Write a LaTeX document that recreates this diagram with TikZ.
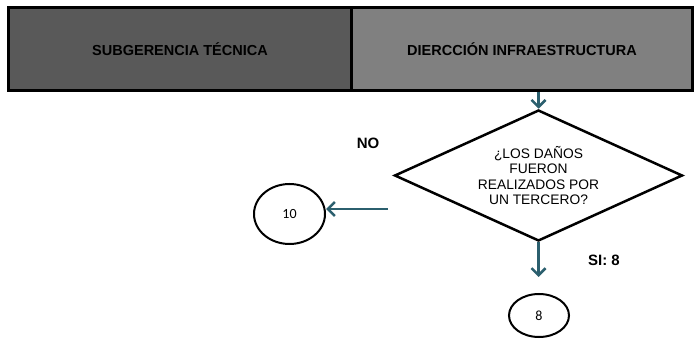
\documentclass[tikz,border=0pt]{standalone}
\usepackage{fontspec}
\setmainfont{Liberation Sans}
\newfontfamily\numfont{Carlito}
\usetikzlibrary{shapes.geometric,arrows.meta}
\definecolor{flowteal}{RGB}{43,95,110}
\definecolor{subgray}{RGB}{89,89,89}
\definecolor{dirgray}{RGB}{128,128,128}

\begin{document}
\begin{tikzpicture}[x=1pt,y=-1pt,
  cell/.style={draw,line width=3pt,minimum height=83pt,inner sep=0pt,
    font=\fontsize{14.5}{17}\selectfont\bfseries},
  flow/.style={draw=flowteal,line width=2.5pt,-{Straight Barb[length=7pt,width=14pt]}},
  answer/.style={font=\fontsize{15}{17}\selectfont\bfseries},
  term/.style={draw,ellipse,line width=2pt,inner sep=0pt,
    font=\numfont\fontsize{14}{16}\selectfont}]
\useasboundingbox (0,0) rectangle (694,339);
% encabezado
\node[cell,fill=subgray,minimum width=343pt] (sub) at (180,49) {SUBGERENCIA TÉCNICA};
\node[cell,fill=dirgray,minimum width=341pt] (dir) at (522,49) {DIERCCIÓN INFRAESTRUCTURA};
% decision
\node[draw,diamond,aspect=2.2,line width=2.5pt,minimum width=288pt,minimum height=131pt,inner sep=0pt,
  align=center,font=\fontsize{13.8}{15.5}\selectfont] (q) at (538.5,175.5)
  {¿LOS DAÑOS\\FUERON\\REALIZADOS POR\\UN TERCERO?};
\node[term,minimum width=71pt,minimum height=60pt] (c10) at (289.5,214) {10};
\node[term,minimum width=60pt,minimum height=43pt] (c8) at (539,315.5) {8};
\node[answer] (no) at (368,143) {NO};
\node[answer] (si) at (604,260) {SI: 8};
% flechas
\coordinate (qin) at (538.5,92);
\coordinate (nostart) at (388,209);
\coordinate (siend) at (538.5,277);
\draw[flow] (qin) -- (q.north);
\draw[flow] (nostart) -- (nostart -| c10.east);
\draw[flow] (q.south) -- (siend);
\end{tikzpicture}
\end{document}
